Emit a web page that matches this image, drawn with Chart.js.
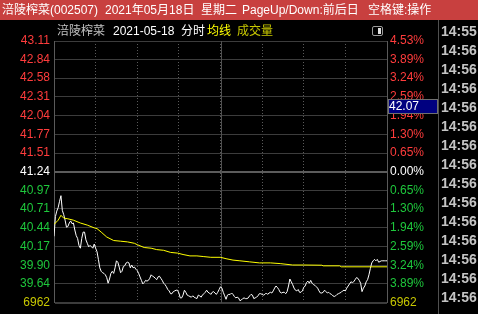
<!DOCTYPE html>
<html>
<head>
<meta charset="utf-8">
<script src="https://cdn.jsdelivr.net/npm/chart.js@4/dist/chart.umd.min.js"></script>
<style>
  body { margin: 0; background: #000; width: 478px; height: 314px; overflow: hidden; position: relative;
         font-family: "Liberation Sans", "Noto Sans CJK SC", sans-serif; }
  #chart { position: absolute; left: 0; top: 0; }
  .t { position: absolute; white-space: nowrap; font-size: 12px; line-height: 20px; }
  #bar { position: absolute; left: 0; top: 0; width: 478px; height: 20px; background: #c8403f; }
  #sep { position: absolute; left: 438px; top: 20px; width: 1px; height: 294px; background: #505050; }
  .tm { position: absolute; left: 441px; font-size: 14px; font-weight: bold; color: #c4c4c4; line-height: 16px; }
  #icon { position: absolute; left: 372px; top: 26px; width: 9px; height: 8px; border: 1px solid #9a9a9a; border-radius: 2px; }
  #icon div { position: absolute; right: 1px; top: 1px; width: 3px; height: 6px; background: #e0e0e0; }
</style>
</head>
<body>
<canvas id="chart" width="478" height="314"></canvas>
<div id="bar"></div>
<div class="t" style="left:2px;top:0;color:#fff">涪陵榨菜(002507)</div>
<div class="t" style="left:105px;top:0;color:#fff">2021年05月18日</div>
<div class="t" style="left:201px;top:0;color:#fff">星期二</div>
<div class="t" style="left:242px;top:0;color:#fff">PageUp/Down:前后日</div>
<div class="t" style="left:368px;top:0;color:#fff">空格键:操作</div>
<div class="t" style="left:57px;top:21px;color:#c0c0c0">涪陵榨菜</div>
<div class="t" style="left:113px;top:21px;color:#fff">2021-05-18</div>
<div class="t" style="left:181px;top:21px;color:#fff">分时</div>
<div class="t" style="left:207px;top:21px;color:#ffff00">均线</div>
<div class="t" style="left:237px;top:21px;color:#c8c800">成交量</div>
<div id="icon"><div></div></div>
<div id="sep"></div>
<div id="times"></div>
<script>
// 分时 price, one value per minute (0 = 9:30, 120 = 11:30/13:00, 240 = 15:00)
const price = [
  40.32, 40.60, 40.68, 40.73, 40.82, 40.90, 40.69, 40.63, 40.55, 40.45,
  40.46, 40.51, 40.54, 40.50, 40.51, 40.41, 40.33, 40.29, 40.19, 40.15,
  40.29, 40.38, 40.38, 40.27, 40.22, 40.17, 40.19, 40.17, 40.15, 40.21,
  40.15, 40.10, 39.99, 39.87, 39.82, 39.80, 39.79, 39.77, 39.73, 39.65,
  39.71, 39.79, 39.82, 39.79, 39.87, 39.97, 39.95, 39.88, 39.80, 39.82,
  39.89, 39.90, 39.94, 39.95, 39.94, 39.87, 39.91, 39.87, 39.88, 39.85,
  39.83, 39.79, 39.74, 39.69, 39.64, 39.66, 39.69, 39.68, 39.69, 39.72,
  39.77, 39.75, 39.74, 39.72, 39.70, 39.74, 39.75, 39.72, 39.69, 39.65,
  39.63, 39.60, 39.56, 39.54, 39.50, 39.50, 39.53, 39.54, 39.55, 39.55,
  39.51, 39.44, 39.44, 39.48, 39.55, 39.52, 39.48, 39.47, 39.46, 39.45,
  39.47, 39.45, 39.44, 39.43, 39.48, 39.47, 39.45, 39.48, 39.50, 39.52,
  39.55, 39.52, 39.51, 39.49, 39.52, 39.53, 39.51, 39.49, 39.52, 39.56,
  39.60, 39.58, 39.52, 39.47, 39.42, 39.48, 39.49, 39.49, 39.51, 39.49,
  39.46, 39.44, 39.45, 39.44, 39.40, 39.41, 39.43, 39.44, 39.43, 39.43,
  39.44, 39.47, 39.49, 39.48, 39.43, 39.44, 39.45, 39.47, 39.50, 39.50,
  39.49, 39.48, 39.49, 39.51, 39.49, 39.51, 39.52, 39.51, 39.54, 39.58,
  39.61, 39.59, 39.56, 39.52, 39.51, 39.52, 39.52, 39.50, 39.53, 39.61,
  39.71, 39.67, 39.63, 39.58, 39.55, 39.54, 39.56, 39.52, 39.52, 39.54,
  39.59, 39.61, 39.66, 39.68, 39.65, 39.69, 39.65, 39.63, 39.62, 39.60,
  39.58, 39.54, 39.51, 39.51, 39.52, 39.55, 39.53, 39.51, 39.52, 39.50,
  39.49, 39.47, 39.46, 39.47, 39.49, 39.50, 39.51, 39.52, 39.54, 39.55,
  39.54, 39.58, 39.61, 39.64, 39.67, 39.66, 39.67, 39.70, 39.73, 39.72,
  39.69, 39.65, 39.53, 39.58, 39.61, 39.67, 39.70, 39.77, 39.86, 39.94,
  39.97, 39.99, 39.97, 39.99, 39.95, 39.96, 39.97, 39.97, 39.97, 39.97,
  39.97
];

// 均线 (avg price), read at the minutes where it bends
const avgMinutes = [0, 3, 5, 7, 10, 14, 19, 24, 29, 31, 34, 38, 43, 48, 53, 58, 60, 65, 70, 74, 79,
  84, 89, 93, 98, 103, 108, 113, 120, 124, 129, 134, 141, 148, 156, 163, 172, 180, 193, 194, 206, 207, 240];
const avgPrice = [40.49, 40.55, 40.62, 40.58, 40.57, 40.55, 40.51, 40.48, 40.44, 40.43, 40.38, 40.31,
  40.26, 40.25, 40.24, 40.22, 40.20, 40.16, 40.15, 40.13, 40.12, 40.09, 40.08, 40.06, 40.04, 40.04,
  40.03, 40.02, 40.02, 40.00, 39.98, 39.97, 39.955, 39.94, 39.94, 39.93, 39.91, 39.91, 39.907, 39.898,
  39.898, 39.884, 39.884];

const priceTicks = ['43.11', '42.84', '42.58', '42.31', '42.04', '41.77', '41.51', '41.24',
  '40.97', '40.71', '40.44', '40.17', '39.90', '39.64'];
const pctTicks = ['4.53%', '3.89%', '3.24%', '2.59%', '1.94%', '1.30%', '0.65%', '0.00%',
  '0.65%', '1.30%', '1.94%', '2.59%', '3.24%', '3.89%'];
const volMax = '6962';
const axisMin = 39.37;
const axisMax = 43.11;
const markPrice = '42.07';
const timeTicks = [0, 30, 60, 90, 120, 150, 180, 210, 240];
const tradeTimes = ['14:55', '14:56', '14:56', '14:56', '14:56', '14:56', '14:56', '14:56',
  '14:56', '14:56', '14:56', '14:56', '14:56', '14:56', '14:56'];

const RED = '#ff3c3c', GREEN = '#1ec83c', YELLOW = '#c8c800';

// right side list of trade times
const timesBox = document.getElementById('times');
tradeTimes.forEach((t, i) => {
  const d = document.createElement('div');
  d.className = 'tm';
  d.style.top = (23 + i * 19) + 'px';
  d.textContent = t;
  timesBox.appendChild(d);
});

const tickValues = priceTicks.map(Number).concat([axisMin]);
function tickColor(i) {
  if (i === 14) return YELLOW;
  if (i < 7) return RED;
  if (i === 7) return '#ffffff';
  return GREEN;
}

const extras = {
  id: 'extras',
  beforeDatasetsDraw(chart) {
    const { ctx, chartArea } = chart;
    const x = Math.round(chart.scales.x.getPixelForValue(120)) + 0.5;
    ctx.save();
    ctx.strokeStyle = '#505050';
    ctx.lineWidth = 1;
    ctx.beginPath();
    ctx.moveTo(x, chartArea.top);
    ctx.lineTo(x, chartArea.bottom);
    ctx.stroke();
    ctx.restore();
  },
  afterDraw(chart) {
    const { ctx, chartArea } = chart;
    const y = Math.round(chart.scales.y.getPixelForValue(Number(markPrice)));
    const x = Math.round(chartArea.right) + 1;
    ctx.save();
    ctx.fillStyle = '#000080';
    ctx.fillRect(x, y - 15, 50, 15);
    ctx.strokeStyle = '#707070';
    ctx.strokeRect(x + 0.5, y - 14.5, 49, 14);
    ctx.fillStyle = '#ffffff';
    ctx.font = '12px "Liberation Sans"';
    ctx.textBaseline = 'middle';
    ctx.fillText(markPrice, x + 1, y - 7);
    ctx.restore();
  }
};

new Chart(document.getElementById('chart'), {
  type: 'line',
  data: {
    datasets: [
      {
        label: '均线',
        data: avgMinutes.map((m, i) => ({ x: m, y: avgPrice[i] })),
        borderColor: '#ffff00',
        borderWidth: 1,
        pointRadius: 0,
        tension: 0
      },
      {
        label: '价格',
        data: price.map((p, i) => ({ x: i, y: p })),
        borderColor: '#ffffff',
        borderWidth: 1,
        pointRadius: 0,
        tension: 0
      }
    ]
  },
  options: {
    responsive: false,
    animation: false,
    devicePixelRatio: 1,
    layout: { padding: { top: 41, bottom: 7, left: 0, right: 0 } },
    plugins: { legend: { display: false }, tooltip: { enabled: false } },
    scales: {
      x: {
        type: 'linear',
        min: 0,
        max: 240,
        afterBuildTicks: s => { s.ticks = timeTicks.map(v => ({ value: v })); },
        ticks: { display: false },
        grid: { color: '#5a5a5a', drawTicks: false },
        border: { display: false, dash: [1, 2] }
      },
      y: {
        position: 'left',
        min: axisMin,
        max: axisMax,
        afterBuildTicks: s => { s.ticks = tickValues.map(v => ({ value: v })); },
        afterFit: s => { s.width = 54; },
        ticks: {
          autoSkip: false,
          padding: 4,
          font: { family: 'Liberation Sans', size: 12 },
          color: c => tickColor(c.index),
          callback: (v, i) => (i === 14 ? volMax : priceTicks[i])
        },
        grid: {
          drawTicks: false,
          color: c => (c.index === 7 ? '#5c5c5c' : '#3c3c3c'),
          lineWidth: c => (c.index === 7 || c.index === 14 ? 2 : 1)
        },
        border: { color: '#5a5a5a' }
      },
      y2: {
        position: 'right',
        min: axisMin,
        max: axisMax,
        afterBuildTicks: s => { s.ticks = tickValues.map(v => ({ value: v })); },
        afterFit: s => { s.width = 91; },
        ticks: {
          autoSkip: false,
          padding: 3,
          font: { family: 'Liberation Sans', size: 12 },
          color: c => tickColor(c.index),
          callback: (v, i) => (i === 14 ? volMax : pctTicks[i])
        },
        grid: { drawOnChartArea: false, drawTicks: false },
        border: { color: '#5a5a5a' }
      }
    }
  },
  plugins: [extras]
});
</script>
</body>
</html>
